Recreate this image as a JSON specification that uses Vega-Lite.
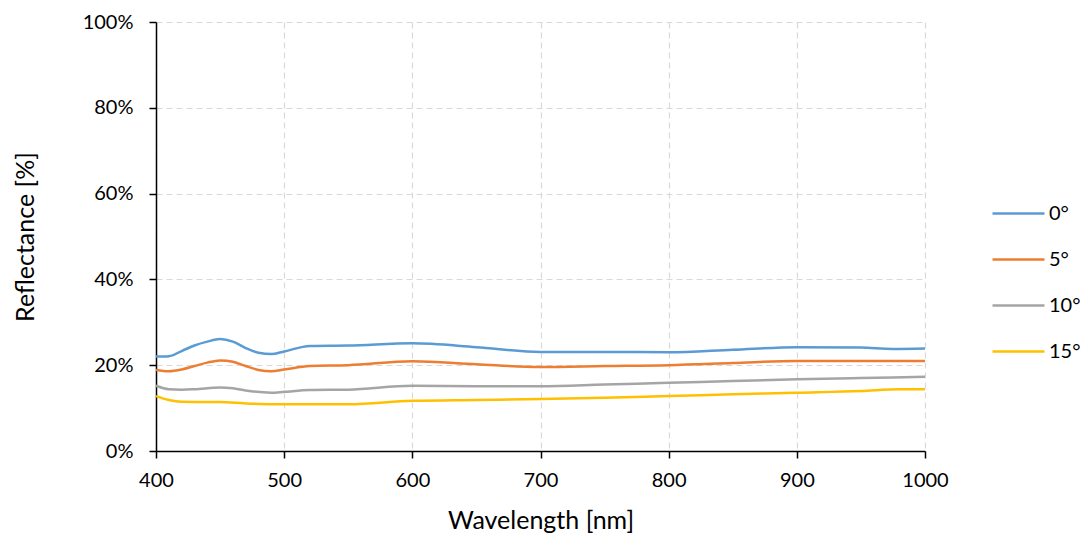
{
  "$schema": "https://vega.github.io/schema/vega-lite/v6.json",
  "width": 769,
  "height": 429,
  "autosize": {"type": "none"},
  "padding": {"left": 156, "top": 22, "right": 161, "bottom": 84},
  "background": "white",
  "config": {
    "font": "Lato",
    "view": {"stroke": null},
    "axis": {
      "labelFont": "Lato", "titleFont": "Lato",
      "labelFontSize": 20, "titleFontSize": 25,
      "labelColor": "#000", "titleColor": "#000",
      "titleFontWeight": "normal",
      "domainColor": "#000", "domainWidth": 1.5,
      "tickColor": "#000", "tickWidth": 1.5, "tickSize": 7,
      "gridColor": "#D9D9D9", "gridDash": [6, 4], "gridWidth": 1.2
    },
    "legend": {"labelFont": "Lato", "labelFontSize": 20, "labelColor": "#000"}
  },
  "datasets": {
    "spectra": [
      {"wl": 400, "r": 22.0, "angle": "0°"}, {"wl": 410, "r": 22.1, "angle": "0°"}, {"wl": 420, "r": 23.3, "angle": "0°"}, {"wl": 430, "r": 24.6, "angle": "0°"}, {"wl": 440, "r": 25.5, "angle": "0°"}, {"wl": 450, "r": 26.1, "angle": "0°"}, {"wl": 460, "r": 25.5, "angle": "0°"}, {"wl": 470, "r": 24.0, "angle": "0°"}, {"wl": 480, "r": 22.9, "angle": "0°"}, {"wl": 490, "r": 22.6, "angle": "0°"}, {"wl": 500, "r": 23.2, "angle": "0°"}, {"wl": 520, "r": 24.5, "angle": "0°"}, {"wl": 550, "r": 24.6, "angle": "0°"}, {"wl": 600, "r": 25.1, "angle": "0°"}, {"wl": 650, "r": 24.2, "angle": "0°"}, {"wl": 700, "r": 23.1, "angle": "0°"}, {"wl": 750, "r": 23.1, "angle": "0°"}, {"wl": 800, "r": 23.0, "angle": "0°"}, {"wl": 850, "r": 23.6, "angle": "0°"}, {"wl": 900, "r": 24.2, "angle": "0°"}, {"wl": 950, "r": 24.1, "angle": "0°"}, {"wl": 975, "r": 23.8, "angle": "0°"}, {"wl": 1000, "r": 23.9, "angle": "0°"},
      {"wl": 400, "r": 18.9, "angle": "5°"}, {"wl": 410, "r": 18.6, "angle": "5°"}, {"wl": 420, "r": 19.0, "angle": "5°"}, {"wl": 430, "r": 19.8, "angle": "5°"}, {"wl": 440, "r": 20.6, "angle": "5°"}, {"wl": 450, "r": 21.1, "angle": "5°"}, {"wl": 460, "r": 20.8, "angle": "5°"}, {"wl": 470, "r": 19.8, "angle": "5°"}, {"wl": 480, "r": 18.9, "angle": "5°"}, {"wl": 490, "r": 18.6, "angle": "5°"}, {"wl": 500, "r": 19.0, "angle": "5°"}, {"wl": 520, "r": 19.8, "angle": "5°"}, {"wl": 550, "r": 20.0, "angle": "5°"}, {"wl": 600, "r": 20.9, "angle": "5°"}, {"wl": 650, "r": 20.2, "angle": "5°"}, {"wl": 700, "r": 19.6, "angle": "5°"}, {"wl": 750, "r": 19.8, "angle": "5°"}, {"wl": 800, "r": 20.0, "angle": "5°"}, {"wl": 850, "r": 20.5, "angle": "5°"}, {"wl": 900, "r": 21.0, "angle": "5°"}, {"wl": 950, "r": 21.0, "angle": "5°"}, {"wl": 1000, "r": 21.0, "angle": "5°"},
      {"wl": 400, "r": 15.2, "angle": "10°"}, {"wl": 410, "r": 14.4, "angle": "10°"}, {"wl": 420, "r": 14.3, "angle": "10°"}, {"wl": 430, "r": 14.4, "angle": "10°"}, {"wl": 450, "r": 14.8, "angle": "10°"}, {"wl": 460, "r": 14.6, "angle": "10°"}, {"wl": 470, "r": 14.1, "angle": "10°"}, {"wl": 490, "r": 13.6, "angle": "10°"}, {"wl": 500, "r": 13.8, "angle": "10°"}, {"wl": 520, "r": 14.2, "angle": "10°"}, {"wl": 550, "r": 14.3, "angle": "10°"}, {"wl": 600, "r": 15.2, "angle": "10°"}, {"wl": 650, "r": 15.1, "angle": "10°"}, {"wl": 700, "r": 15.1, "angle": "10°"}, {"wl": 750, "r": 15.5, "angle": "10°"}, {"wl": 800, "r": 15.9, "angle": "10°"}, {"wl": 850, "r": 16.3, "angle": "10°"}, {"wl": 900, "r": 16.7, "angle": "10°"}, {"wl": 950, "r": 17.0, "angle": "10°"}, {"wl": 1000, "r": 17.3, "angle": "10°"},
      {"wl": 400, "r": 12.8, "angle": "15°"}, {"wl": 410, "r": 11.9, "angle": "15°"}, {"wl": 420, "r": 11.5, "angle": "15°"}, {"wl": 450, "r": 11.4, "angle": "15°"}, {"wl": 470, "r": 11.1, "angle": "15°"}, {"wl": 490, "r": 10.9, "angle": "15°"}, {"wl": 550, "r": 10.9, "angle": "15°"}, {"wl": 600, "r": 11.7, "angle": "15°"}, {"wl": 650, "r": 11.9, "angle": "15°"}, {"wl": 700, "r": 12.1, "angle": "15°"}, {"wl": 750, "r": 12.4, "angle": "15°"}, {"wl": 800, "r": 12.8, "angle": "15°"}, {"wl": 850, "r": 13.2, "angle": "15°"}, {"wl": 900, "r": 13.6, "angle": "15°"}, {"wl": 950, "r": 14.0, "angle": "15°"}, {"wl": 980, "r": 14.4, "angle": "15°"}, {"wl": 1000, "r": 14.4, "angle": "15°"}
    ]
  },
  "data": {"name": "spectra"},
  "mark": {"type": "line", "interpolate": "monotone", "strokeWidth": 2.5},
  "encoding": {
    "x": {
      "field": "wl", "type": "quantitative",
      "scale": {"domain": [400, 1000], "nice": false, "zero": false},
      "axis": {"values": [400, 500, 600, 700, 800, 900, 1000], "format": "d", "labelFlush": false, "title": "Wavelength [nm]", "labelPadding": 12, "titleBaseline": "alphabetic", "titleY": 77}
    },
    "y": {
      "field": "r", "type": "quantitative",
      "scale": {"domain": [0, 100], "nice": false},
      "axis": {"values": [0, 20, 40, 60, 80, 100], "labelExpr": "datum.value + '%'", "labelFlush": false, "title": "Reflectance [%]", "labelPadding": 16, "titleBaseline": "alphabetic", "titleX": -123}
    },
    "color": {
      "field": "angle", "type": "nominal",
      "scale": {"domain": ["0°", "5°", "10°", "15°"], "range": ["#5B9BD5", "#ED7D31", "#A5A5A5", "#FFC000"]},
      "legend": {"title": null, "orient": "none", "legendX": 835, "legendY": 164, "symbolType": "stroke", "symbolSize": 2704, "symbolStrokeWidth": 2.5, "labelOffset": 3, "rowPadding": 8}
    }
  }
}
